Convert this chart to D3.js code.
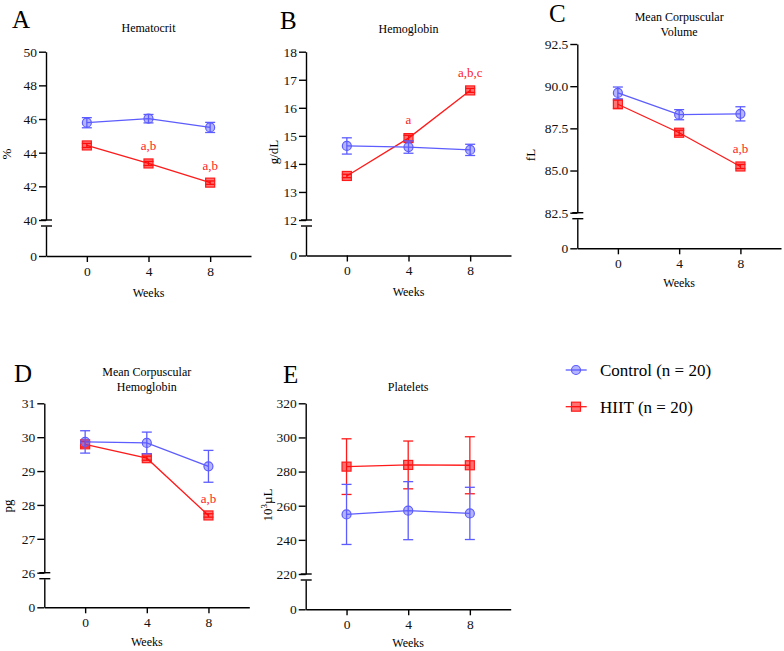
<!DOCTYPE html>
<html>
<head>
<meta charset="utf-8">
<script src="https://cdn.jsdelivr.net/npm/d3@7"></script>
<style>
  body { margin: 0; background: #fff; }
  svg text { font-family: "Liberation Serif", "Times New Roman", Times, serif !important; }
</style>
</head>
<body>
<div id="chart"></div>
<script>
// data (mean, error)
const weeks = [0, 4, 8];

const hctControl = [45.78, 46.02, 45.5];
const hctControlErr = [0.3, 0.25, 0.3];
const hctHIIT = [44.43, 43.36, 42.22];
const hctHIITErr = [0.12, 0.12, 0.1];
const hctNotes = ["", "a,b", "a,b"];
const hctTicks = [40, 42, 44, 46, 48, 50];

const hbControl = [14.64, 14.6, 14.5];
const hbControlErr = [0.29, 0.22, 0.2];
const hbHIIT = [13.57, 14.92, 16.62];
const hbHIITErr = [0.06, 0.1, 0.07];
const hbNotes = ["", "a", "a,b,c"];
const hbTicks = [12, 13, 14, 15, 16, 17, 18];

const mcvControl = [89.6, 88.31, 88.36];
const mcvControlErr = [0.35, 0.3, 0.42];
const mcvHIIT = [88.93, 87.24, 85.24];
const mcvHIITErr = [0.25, 0.15, 0.12];
const mcvNotes = ["", "", "a,b"];
const mcvTicks = [82.5, 85, 87.5, 90, 92.5];

const mchControl = [29.86, 29.83, 29.14];
const mchControlErr = [0.33, 0.32, 0.47];
const mchHIIT = [29.79, 29.38, 27.69];
const mchHIITErr = [0.08, 0.06, 0.05];
const mchNotes = ["", "", "a,b"];
const mchTicks = [26, 27, 28, 29, 30, 31];

const pltControl = [254.9, 257.1, 255.5];
const pltControlErr = [17.6, 17, 15.3];
const pltHIIT = [282.9, 283.9, 283.7];
const pltHIITErr = [16.3, 14, 16.7];
const pltNotes = ["", "", ""];
const pltTicks = [220, 240, 260, 280, 300, 320];

const groups = ["Control (n = 20)", "HIIT (n = 20)"];

const blue = "#5c5cff", blueFill = "rgba(92,92,255,0.45)";
const red = "#ff1a1a", redFill = "rgba(255,0,0,0.55)";
const serif = "Liberation Serif";

const svg = d3.select("#chart").append("svg")
  .attr("width", 784).attr("height", 651)
  .attr("font-family", serif);

const panels = [
  {letter: "A", title: ["Hematocrit"], unit: "%", ctrl: hctControl, ctrlErr: hctControlErr, hiit: hctHIIT, hiitErr: hctHIITErr,
   notes: hctNotes, ticks: hctTicks, fmt: d3.format("d"),
   x0: 46, x1: 251, yTop: 51.7, yBreak: 220, yZero: 256, lx: 12, ly: 28, ty: 32, ux: 6.5, uy: 154, wy: 41},
  {letter: "B", title: ["Hemoglobin"], unit: "g/dL", ctrl: hbControl, ctrlErr: hbControlErr, hiit: hbHIIT, hiitErr: hbHIITErr,
   notes: hbNotes, ticks: hbTicks, fmt: d3.format("d"),
   x0: 306, x1: 511, yTop: 51.7, yBreak: 220, yZero: 255.5, lx: 280, ly: 29, ty: 33, ux: 273, uy: 152, wy: 40},
  {letter: "C", title: ["Mean Corpuscular", "Volume"], unit: "fL", ctrl: mcvControl, ctrlErr: mcvControlErr, hiit: mcvHIIT, hiitErr: mcvHIITErr,
   notes: mcvNotes, ticks: mcvTicks, fmt: d3.format(".1f"),
   x0: 577.3, x1: 781, yTop: 44, yBreak: 212.7, yZero: 248.3, lx: 549, ly: 22, ty: 21, ux: 530, uy: 155, wy: 39},
  {letter: "D", title: ["Mean Corpuscular", "Hemoglobin"], unit: "pg", ctrl: mchControl, ctrlErr: mchControlErr, hiit: mchHIIT, hiitErr: mchHIITErr,
   notes: mchNotes, ticks: mchTicks, fmt: d3.format("d"),
   x0: 44.3, x1: 249.3, yTop: 403.3, yBreak: 572.7, yZero: 607.3, lx: 14, ly: 382, ty: 376, ux: 7.5, uy: 506, wy: 39},
  {letter: "E", title: ["Platelets"], unit: "plt", ctrl: pltControl, ctrlErr: pltControlErr, hiit: pltHIIT, hiitErr: pltHIITErr,
   notes: pltNotes, ticks: pltTicks, fmt: d3.format("d"),
   x0: 305.7, x1: 510.7, yTop: 403.3, yBreak: 574, yZero: 609.3, lx: 283, ly: 383, ty: 391, ux: 267, uy: 505, wy: 37.5}
];

function drawPanel(p) {
  const g = svg.append("g");
  const x = d3.scaleLinear().domain([-2.65, 10.65]).range([p.x0, p.x1]);
  const lo = p.ticks[0], hi = p.ticks[p.ticks.length - 1];
  const y = d3.scaleLinear().domain([lo, hi]).range([p.yBreak, p.yTop]);
  const y0 = d3.scaleLinear().domain([0, 1]).range([p.yZero, p.yBreak + 6]);

  // upper y axis
  const ya = g.append("g").attr("transform", `translate(${p.x0},0)`)
    .call(d3.axisLeft(y).tickValues(p.ticks).tickFormat(p.fmt).tickSize(7).tickSizeOuter(0).tickPadding(2));
  // lower y axis segment with 0
  const yb = g.append("g").attr("transform", `translate(${p.x0},0)`)
    .call(d3.axisLeft(y0).tickValues([0]).tickFormat(d3.format("d")).tickSize(7).tickSizeOuter(0).tickPadding(2));
  // x axis
  const xa = g.append("g").attr("transform", `translate(0,${p.yZero})`)
    .call(d3.axisBottom(x).tickValues(weeks).tickSize(6).tickSizeOuter(0).tickPadding(4));
  [ya, yb, xa].forEach(a => {
    a.attr("font-family", serif).attr("font-size", 13.5);
    a.selectAll("path, line").attr("stroke", "#000").attr("stroke-width", 1.4);
    a.selectAll("text").attr("fill", "#111");
  });
  // break marks
  [p.yBreak, p.yBreak + 6].forEach(by => {
    g.append("line").attr("x1", p.x0 - 5).attr("x2", p.x0 + 6)
      .attr("y1", by).attr("y2", by).attr("stroke", "#000").attr("stroke-width", 1.4);
  });

  // titles and labels
  g.append("text").attr("x", p.lx).attr("y", p.ly).attr("font-size", 25).text(p.letter);
  p.title.forEach((t, i) => {
    g.append("text").attr("x", x(4)).attr("y", p.ty + i * 15).attr("text-anchor", "middle")
      .attr("font-size", 12).text(t);
  });
  g.append("text").attr("x", x(4)).attr("y", p.yZero + p.wy).attr("text-anchor", "middle")
    .attr("font-size", 12).text("Weeks");
  const ul = g.append("text").attr("transform", `translate(${p.ux},${p.uy}) rotate(-90)`)
    .attr("text-anchor", "middle").attr("dy", "0.35em").attr("font-size", 13);
  if (p.unit === "plt") {
    ul.append("tspan").text("10");
    ul.append("tspan").attr("dy", -5).attr("font-size", 9).text("3");
    ul.append("tspan").attr("dy", 5).text("µL");
  } else {
    ul.text(p.unit);
  }

  const line = d3.line().x((d, i) => x(weeks[i])).y(d => y(d));
  const series = [
    {vals: p.hiit, err: p.hiitErr, col: red, fill: redFill, shape: "square"},
    {vals: p.ctrl, err: p.ctrlErr, col: blue, fill: blueFill, shape: "circle"}
  ];
  series.forEach(s => {
    const sg = g.append("g");
    sg.append("path").attr("d", line(s.vals)).attr("fill", "none")
      .attr("stroke", s.col).attr("stroke-width", 1.3);
    s.vals.forEach((v, i) => {
      const cx = x(weeks[i]);
      const t = y(v + s.err[i]), b = y(v - s.err[i]);
      sg.append("line").attr("x1", cx).attr("x2", cx).attr("y1", t).attr("y2", b)
        .attr("stroke", s.col).attr("stroke-width", 1.3);
      [t, b].forEach(cy => sg.append("line").attr("x1", cx - 5).attr("x2", cx + 5)
        .attr("y1", cy).attr("y2", cy).attr("stroke", s.col).attr("stroke-width", 1.3));
      if (s.shape === "circle") {
        sg.append("circle").attr("cx", cx).attr("cy", y(v)).attr("r", 4.5)
          .attr("fill", s.fill).attr("stroke", s.col).attr("stroke-width", 1.2);
      } else {
        sg.append("rect").attr("x", cx - 4.5).attr("y", y(v) - 4.5).attr("width", 9).attr("height", 9)
          .attr("fill", s.fill).attr("stroke", s.col).attr("stroke-width", 1.2);
      }
    });
  });
  // significance letters
  p.notes.forEach((n, i) => {
    if (!n) return;
    g.append("text").attr("x", x(weeks[i])).attr("y", y(p.hiit[i] + p.hiitErr[i]) - 11)
      .attr("text-anchor", "middle").attr("font-size", 13).attr("fill", red).text(n);
  });
}

panels.forEach(drawPanel);

// legend
const leg = svg.append("g");
groups.forEach((name, i) => {
  const ly = 370 + i * 36.7;
  const col = i === 0 ? blue : red, fill = i === 0 ? blueFill : redFill;
  leg.append("line").attr("x1", 565.7).attr("x2", 586.7).attr("y1", ly).attr("y2", ly)
    .attr("stroke", col).attr("stroke-width", 1.3);
  if (i === 0) {
    leg.append("circle").attr("cx", 576).attr("cy", ly).attr("r", 4.5)
      .attr("fill", fill).attr("stroke", col).attr("stroke-width", 1.2);
  } else {
    leg.append("rect").attr("x", 571.5).attr("y", ly - 4.5).attr("width", 9).attr("height", 9)
      .attr("fill", fill).attr("stroke", col).attr("stroke-width", 1.2);
  }
  leg.append("text").attr("x", 600).attr("y", ly + 6).attr("font-size", 17).text(name);
});
</script>
</body>
</html>
